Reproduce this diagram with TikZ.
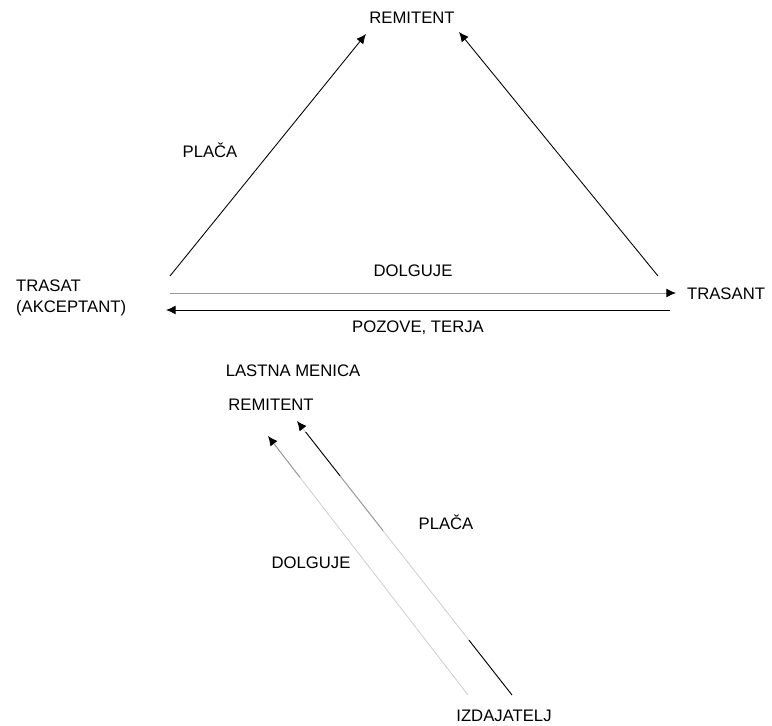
\documentclass[tikz,border=0pt]{standalone}
\usepackage{fontspec}
\setmainfont{Liberation Sans}
\usepackage{xcolor}
\definecolor{sivo}{rgb}{0.6,0.6,0.6}
\definecolor{svsivo}{rgb}{0.82,0.82,0.82}
\usetikzlibrary{calc,arrows.meta,positioning}
\tikzset{
  oseba/.style={inner sep=1pt,font=\fontsize{9.5}{12}\selectfont},
  napis/.style={inner sep=1pt,font=\fontsize{9.5}{12}\selectfont},
  tok/.style={draw,line width=0.5pt,-{Latex[length=5.5pt,width=5pt]}},
  tokg/.style={draw=sivo,line width=0.5pt,-{Latex[length=5.5pt,width=5pt,black]}},
  tokl/.style={draw=svsivo,line width=0.5pt,-{Latex[length=5.5pt,width=5pt,black]}},
}

\begin{document}
\begin{tikzpicture}[x=0.02cm,y=-0.02cm]
   \useasboundingbox (0,0) rectangle (772,726);
   % menica - trikotnik
   \node[oseba] (rem) at (412,18) {REMITENT};
   \node[oseba,align=left,anchor=west] (trasat) at (14,298) {TRASAT\\(AKCEPTANT)};
   \node[oseba,anchor=west] (trasant) at (685,294) {TRASANT};
   \coordinate (trL) at (170,276);
   \coordinate (trR) at (658,276);
   \coordinate (remL) at (366,34);
   \coordinate (remR) at (459,32);
   \coordinate (dA) at (170,293);
   \coordinate (dB) at (676,293);
   \coordinate (pA) at (670,310);
   \coordinate (pB) at (166,310);
   \node[napis] (placa1) at (210,150) {PLAČA};
   \node[napis] (dolg1) at (413,271) {DOLGUJE};
   \node[napis] (pozove) at (418,328) {POZOVE, TERJA};

  \path
    (trL) edge[tok] node {} (remL)
    (trR) edge[tok] node {} (remR)
    (pA) edge[tok] node {} (pB)
    (dA) edge[tokg] node {} (dB);

   % lastna menica
   \node[napis] (lastna) at (293,371) {LASTNA MENICA};
   \node[oseba] (rem2) at (271,405) {REMITENT};
   \node[oseba] (izd) at (504,716) {IZDAJATELJ};
   \coordinate (izdL) at (468,695);
   \coordinate (izdR) at (512,695);
   \coordinate (remA) at (268,436);
   \coordinate (remB) at (297,421);
   \node[napis] (dolg2) at (311,563) {DOLGUJE};
   \node[napis] (placa2) at (446,522) {PLAČA};

  \path
    (izdL) edge[tokl] node {} (remA)
    (izdR) edge[tokl] node {} (remB);
  % temnejsi deli crte
  \draw[line width=0.5pt,sivo] ($(izdL)!0.84!(remA)$) -- ($(izdL)!0.97!(remA)$);
  \draw[line width=0.5pt,sivo] ($(izdR)!0.6!(remB)$) -- ($(izdR)!0.8!(remB)$);
  \draw[line width=0.5pt,black] ($(izdR)!0.8!(remB)$) -- ($(izdR)!0.96!(remB)$);
  \draw[line width=0.5pt,black] (izdR) -- ($(izdR)!0.2!(remB)$);
\end{tikzpicture}
\end{document}
